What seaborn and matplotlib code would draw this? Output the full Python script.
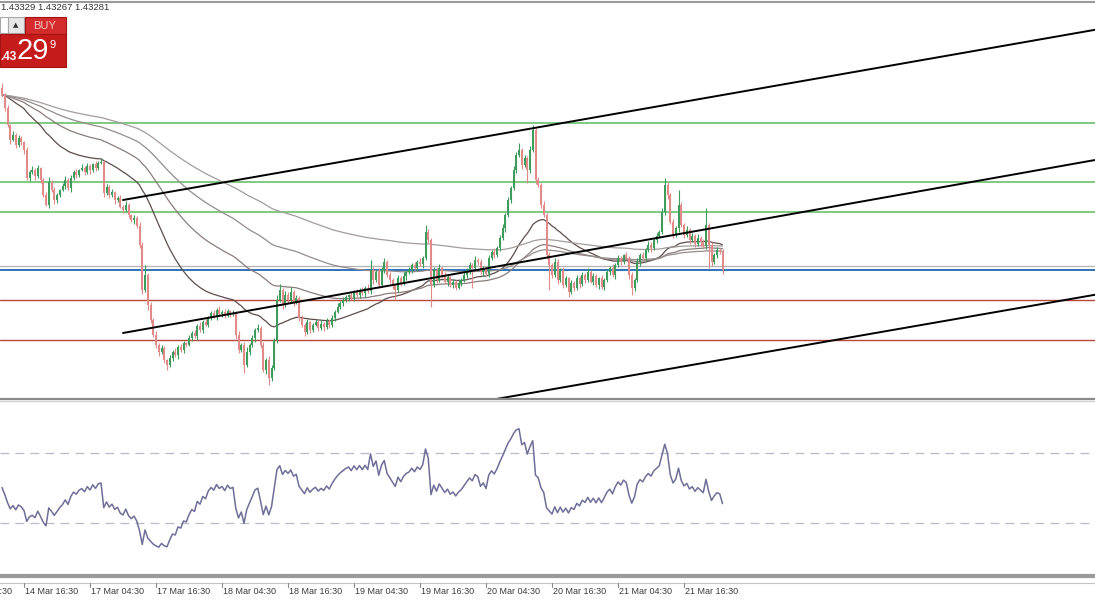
import matplotlib
matplotlib.use('Agg')
import matplotlib.pyplot as plt
import matplotlib.transforms as mtransforms
from matplotlib.lines import Line2D
from matplotlib.patches import Rectangle
import numpy as np
import pandas as pd
import seaborn as sns

sns.set_style("white")
plt.rcParams['font.family'] = ['Liberation Sans Narrow', 'Liberation Sans', 'DejaVu Sans']

# --- данные (M30 свечи, цены) ---
first_open = 1.44009
close = [
    1.43981, 1.43929, 1.43861, 1.43801, 1.43821, 1.43781, 1.43809, 1.43793, 1.43761, 1.43649,
    1.43673, 1.43681, 1.43657, 1.43689, 1.43641, 1.43581, 1.43541, 1.43633, 1.43601, 1.43561,
    1.43581, 1.43601, 1.43617, 1.43641, 1.43609, 1.43649, 1.43673, 1.43661, 1.43681, 1.43689,
    1.43673, 1.43697, 1.43681, 1.43705, 1.43689, 1.43709, 1.43713, 1.43589, 1.43613, 1.43581,
    1.43593, 1.43561, 1.43569, 1.43533, 1.43521, 1.43541, 1.43501, 1.43481, 1.43489, 1.43457,
    1.43381, 1.43201, 1.43261, 1.43141, 1.43081, 1.43021, 1.42981, 1.42953, 1.42969, 1.42921,
    1.42901, 1.42929, 1.42953, 1.42941, 1.42973, 1.42961, 1.42989, 1.42981, 1.43009, 1.43029,
    1.43017, 1.43057, 1.43041, 1.43073, 1.43061, 1.43093, 1.43109, 1.43097, 1.43121, 1.43105,
    1.43113, 1.43097, 1.43117, 1.43105, 1.43109, 1.43021, 1.42961, 1.42981, 1.42901, 1.42953,
    1.42981, 1.43009, 1.43041, 1.43049, 1.42981, 1.42881, 1.42921, 1.42849, 1.42889, 1.43001,
    1.43161, 1.43201, 1.43141, 1.43181, 1.43161, 1.43193, 1.43153, 1.43169, 1.43089, 1.43061,
    1.43033, 1.43073, 1.43041, 1.43061, 1.43073, 1.43049, 1.43065, 1.43053, 1.43077, 1.43061,
    1.43089, 1.43113, 1.43133, 1.43149, 1.43161, 1.43173, 1.43181, 1.43169, 1.43193, 1.43181,
    1.43201, 1.43189, 1.43209, 1.43197, 1.43281, 1.43241, 1.43273, 1.43221, 1.43281, 1.43313,
    1.43261, 1.43241, 1.43221, 1.43201, 1.43249, 1.43229, 1.43257, 1.43273, 1.43281, 1.43301,
    1.43289, 1.43313, 1.43305, 1.43329, 1.43433, 1.43401, 1.43221, 1.43281, 1.43241, 1.43289,
    1.43261, 1.43233, 1.43253, 1.43221, 1.43233, 1.43209, 1.43229, 1.43241, 1.43261, 1.43281,
    1.43301, 1.43289, 1.43321, 1.43313, 1.43273, 1.43289, 1.43265, 1.43329, 1.43353, 1.43341,
    1.43369, 1.43409, 1.43449, 1.43501, 1.43561, 1.43609, 1.43681, 1.43741, 1.43761, 1.43701,
    1.43729, 1.43681, 1.43761, 1.43841, 1.43641, 1.43621, 1.43541, 1.43501, 1.43341, 1.43301,
    1.43261, 1.43313, 1.43241, 1.43281, 1.43221, 1.43249, 1.43193, 1.43229, 1.43209, 1.43249,
    1.43225, 1.43261, 1.43241, 1.43273, 1.43233, 1.43257, 1.43221, 1.43249, 1.43213, 1.43241,
    1.43273, 1.43289, 1.43261, 1.43301, 1.43329, 1.43313, 1.43341, 1.43329, 1.43261, 1.43209,
    1.43241, 1.43313, 1.43341, 1.43329, 1.43361, 1.43381, 1.43369, 1.43401, 1.43417, 1.43433,
    1.43513, 1.43621, 1.43581, 1.43473, 1.43421, 1.43449, 1.43541, 1.43461, 1.43421, 1.43441,
    1.43401, 1.43417, 1.43385, 1.43409, 1.43393, 1.43377, 1.43461, 1.43381, 1.43313, 1.43341,
    1.43361, 1.43353, 1.43281,
]
# тени свечей в пунктах (0.00001)
hi_wick = [
    20, 8, 12, 4, 16, 8, 12, 8, 4, 12,   8, 16, 8, 12, 4, 8, 12, 20, 8, 12,
    8, 4, 12, 16, 8, 12, 8, 12, 4, 16,   8, 12, 8, 4, 12, 8, 16, 8, 12, 8,
    12, 4, 8, 12, 8, 16, 8, 4, 12, 8,    16, 12, 40, 8, 12, 8, 16, 8, 12, 8,
    4, 12, 8, 16, 8, 12, 8, 4, 12, 8,    12, 8, 16, 8, 12, 4, 8, 12, 8, 16,
    8, 12, 8, 4, 12, 8, 16, 8, 12, 20,   8, 12, 8, 16, 8, 12, 8, 16, 12, 8,
    20, 24, 8, 16, 12, 20, 8, 12, 8, 12, 8, 12, 4, 8, 12, 8, 16, 8, 12, 8,
    12, 8, 16, 8, 12, 8, 4, 12, 8, 12,   8, 12, 8, 16, 40, 12, 8, 16, 12, 16,
    8, 12, 8, 4, 12, 8, 16, 8, 12, 8,    12, 8, 16, 8, 28, 12, 8, 12, 8, 16,
    8, 12, 8, 4, 12, 8, 16, 8, 12, 8,    12, 8, 16, 8, 12, 8, 4, 12, 8, 16,
    8, 12, 16, 8, 12, 8, 16, 12, 28, 8,  12, 8, 16, 20, 8, 12, 8, 16, 8, 12,
    8, 16, 12, 8, 12, 8, 4, 12, 8, 12,   8, 12, 8, 16, 8, 12, 8, 4, 12, 8,
    12, 8, 16, 8, 12, 8, 4, 12, 8, 12,   8, 16, 8, 12, 8, 16, 12, 8, 12, 8,
    16, 28, 12, 8, 12, 8, 60, 12, 8, 16, 8, 12, 8, 16, 8, 12, 68, 8, 12, 8,
    12, 8, 12,
]
lo_wick = [
    8, 12, 8, 16, 4, 12, 8, 12, 16, 8,   12, 8, 16, 8, 12, 8, 4, 12, 8, 16,
    12, 8, 4, 12, 8, 16, 8, 12, 8, 4,    12, 8, 16, 8, 12, 8, 4, 16, 8, 12,
    8, 16, 8, 4, 12, 8, 12, 8, 16, 8,    12, 16, 8, 20, 12, 8, 12, 16, 8, 12,
    20, 8, 12, 8, 16, 8, 12, 8, 4, 12,   8, 16, 8, 12, 4, 8, 12, 8, 16, 8,
    12, 8, 4, 12, 8, 16, 12, 8, 32, 8,   12, 8, 16, 8, 12, 8, 16, 28, 12, 8,
    12, 8, 16, 8, 12, 8, 16, 8, 12, 8,   16, 8, 12, 8, 4, 12, 8, 16, 8, 12,
    8, 12, 4, 8, 12, 8, 16, 8, 12, 8,    12, 8, 16, 8, 12, 16, 8, 12, 8, 12,
    8, 12, 16, 40, 8, 12, 8, 16, 8, 12,  8, 12, 8, 16, 8, 12, 88, 8, 12, 8,
    12, 8, 16, 8, 12, 8, 4, 12, 8, 12,   16, 80, 8, 12, 8, 16, 8, 12, 8, 12,
    8, 12, 8, 16, 8, 12, 8, 12, 8, 16,   8, 52, 12, 8, 16, 8, 12, 8, 16, 100,
    12, 8, 16, 8, 12, 8, 20, 8, 12, 8,   16, 8, 12, 8, 4, 12, 8, 16, 8, 12,
    8, 12, 8, 16, 8, 12, 8, 4, 16, 28,   12, 8, 16, 8, 12, 8, 16, 8, 12, 8,
    8, 12, 16, 8, 12, 8, 16, 8, 12, 8,   16, 8, 12, 8, 16, 8, 12, 92, 16, 8,
    12, 8, 16,
]

green_levels = [1.43869, 1.43633, 1.43513]
red_levels = [1.43161, 1.43001]
bid_price = 1.43281
ask_price = 1.43299
# лучи тренда: (бар, цена) -> (бар, цена)
trend_lines = [((44, 1.43561), (193, 1.43848)),
               ((44, 1.43029), (257, 1.43446)),
               ((150, 1.42708), (398, 1.43183))]
ma_spans = [40, 80, 130, 200]
rsi_period = 14
rsi_levels = [30, 70]

tick_pos = [-16, 8, 32, 56, 80, 104, 128, 152, 176, 200, 224, 248]
tick_labels = ['14 Mar 04:30', '14 Mar 16:30', '17 Mar 04:30', '17 Mar 16:30',
               '18 Mar 04:30', '18 Mar 16:30', '19 Mar 04:30', '19 Mar 16:30',
               '20 Mar 04:30', '20 Mar 16:30', '21 Mar 04:30', '21 Mar 16:30']
header_text = '1.43329 1.43267 1.43281'

# --- подготовка ---
pt = 1e-5
df = pd.DataFrame({'close': close})
df['bar'] = np.arange(len(df))
df['open'] = df['close'].shift(1).fillna(first_open)
body_lo = df[['open', 'close']].min(axis=1)
body_hi = df[['open', 'close']].max(axis=1)
df['high'] = body_hi + np.array(hi_wick) * pt
df['low'] = body_lo - np.array(lo_wick) * pt

delta = df['close'].diff().fillna(0).values
avg_g, avg_l = 25 * pt, 25 * pt
rsi = []
for d in delta:
    avg_g = (avg_g * (rsi_period - 1) + max(d, 0)) / rsi_period
    avg_l = (avg_l * (rsi_period - 1) + max(-d, 0)) / rsi_period
    rsi.append(100 - 100 / (1 + avg_g / avg_l))
df['rsi'] = rsi

W, H = 1095, 600
fig = plt.figure(figsize=(W / 100, H / 100), dpi=100)
fig.patch.set_facecolor('white')


def fy(y):
    return 1 - y / H


xlim = (-2 / 2.75, (W - 2) / 2.75)

ax = fig.add_axes([0, fy(398), 1, 398 / H])
ax.set_xlim(*xlim)
ax.set_ylim(1.42769, 1.44361)
ax.axis('off')

# уровни
for lv in green_levels:
    ax.axhline(lv, color='#6cbf6c', lw=1.2, zorder=1)
for lv in red_levels:
    ax.axhline(lv, color='#b5483c', lw=1.0, zorder=1)
ax.axhline(ask_price, color='#b4b4b4', lw=0.9, zorder=1)
ax.axhline(bid_price, color='#2f72b8', lw=1.4, zorder=1)

# скользящие средние
ma_colors = ['#5e4c4c', '#8a7c7c', '#958c8c', '#a39c9c']
for span, c in zip(ma_spans, ma_colors):
    ema = df['close'].ewm(span=span, adjust=False).mean()
    sns.lineplot(x=df['bar'], y=ema, ax=ax, color=c, lw=0.9, legend=False, zorder=2)

# свечи
up = df['close'] >= df['open']
colors = np.where(up, '#3d9c5c', '#e28a8a')
ax.vlines(df['bar'], df['low'], df['high'], colors=colors, lw=0.8, zorder=3)
heights = (body_hi - body_lo).clip(lower=4 * pt)
ax.bar(df['bar'], heights, bottom=body_lo, width=0.72, color=colors, linewidth=0, zorder=4)

# трендовые лучи
for (x1, y1), (x2, y2) in trend_lines:
    k = (y2 - y1) / (x2 - x1)
    ax.plot([x1, xlim[1]], [y1, y1 + k * (xlim[1] - x1)], color='black', lw=1.4, zorder=5)

# --- RSI ---
ax2 = fig.add_axes([0, fy(575), 1, 175 / H])
ax2.set_xlim(*xlim)
ax2.set_ylim(0, 100)
ax2.axis('off')
for lv in rsi_levels:
    ax2.axhline(lv, color='#b9b9c9', lw=0.9, dashes=(7, 5))
sns.lineplot(x=df['bar'], y=df['rsi'], ax=ax2, color='#6e6e98', lw=1.1, legend=False)

# разделители панелей
for y, c, lw in [(2, '#9a9a9a', 1.5), (398.5, '#8a8a8a', 1.6), (401, '#d0d0d0', 1.0),
                 (575.5, '#9a9a9a', 3.0), (583, '#c4c4c4', 0.8)]:
    fig.add_artist(Line2D([0, 1], [fy(y), fy(y)], transform=fig.transFigure, color=c, lw=lw))

# ось времени
trans = mtransforms.blended_transform_factory(ax2.transData, fig.transFigure)
for p, lab in zip(tick_pos, tick_labels):
    fig.add_artist(Line2D([p, p], [fy(583), fy(587)], transform=trans, color='#888888', lw=0.8))
    fig.text(p + 0.3, fy(591), lab, transform=trans, ha='left', va='center',
             fontsize=6.5, color='#3c3c3c')

fig.text(1 / W, fy(8), header_text, ha='left', va='center', fontsize=6.8, color='#333333')

# панель BUY
def box(x, y, w, h, fc, ec='none', lw=0.0):
    fig.add_artist(Rectangle((x / W, fy(y + h)), w / W, h / H, transform=fig.transFigure,
                             facecolor=fc, edgecolor=ec, lw=lw))


box(0, 17, 8, 16, 'white', '#a8a8a8', 0.8)
box(8, 17, 16, 16, '#e6e6e6', '#a8a8a8', 0.8)
fig.text(16 / W, fy(25), '▲', ha='center', va='center', fontsize=5, color='#333333',
         family='DejaVu Sans')
box(25, 17, 41, 17, '#d42c2c', '#a51212', 0.8)
fig.text(45 / W, fy(26), 'BUY', ha='center', va='center', fontsize=8, color='#f6c4c4')
box(0, 34, 66, 33, '#c51b1b', '#a51212', 0.8)
fig.text(0 / W, fy(57), '.43', ha='left', va='center', fontsize=8.5, color='white', weight='bold')
fig.text(17 / W, fy(51), '29', ha='left', va='center', fontsize=21, color='white')
fig.text(50 / W, fy(45), '9', ha='left', va='center', fontsize=8, color='white')

fig.savefig('out.png', dpi=100, facecolor='white')
